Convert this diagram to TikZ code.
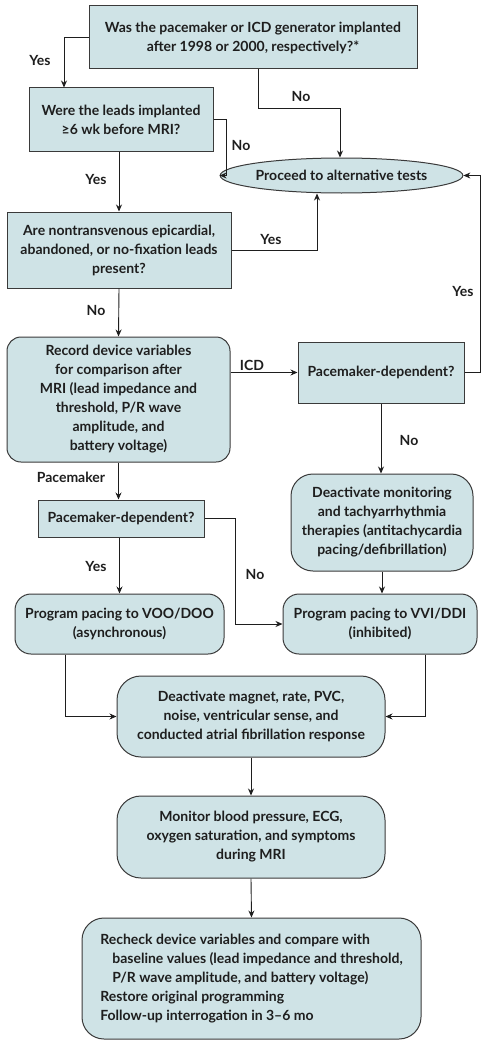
\documentclass[tikz,border=0pt]{standalone}
\usepackage{fontspec}
\setmainfont{Lato}
\usepackage{tikz}
\usetikzlibrary{arrows.meta}
\usetikzlibrary{shapes.geometric}
\usepackage{xcolor}
\definecolor{boxfill}{HTML}{CFE3E6}
\definecolor{boxline}{HTML}{3A3A3A}
\definecolor{ink}{HTML}{1E1E1E}

\tikzset{
  sqbox/.style={draw=boxline, fill=boxfill, line width=1pt, align=center, inner sep=0pt,
    text=ink, font=\fontsize{14}{19}\selectfont\bfseries},
  rdbox/.style={sqbox, rounded corners=14pt},
  lbl/.style={text=ink, font=\fontsize{14}{19}\selectfont\bfseries, inner sep=0pt},
  arr/.style={draw=ink, line width=0.9pt, -{Stealth[length=7pt,width=6pt]}}
}

\begin{document}
\begin{tikzpicture}[x=1pt,y=-1pt]
\useasboundingbox (0,0) rectangle (487,1046);

% questions
\node [sqbox, minimum width=328pt, minimum height=63pt] (q1) at (253,37.5)
  {Was the pacemaker or ICD generator implanted\\after 1998 or 2000, respectively?*};
\node [sqbox, minimum width=184pt, minimum height=63pt] (q2) at (121,119.5)
  {Were the leads implanted\\≥6 wk before MRI?};
\node [sqbox, ellipse, minimum width=195pt, minimum height=35pt] (alt) at (341.5,175.5)
  {Proceed to alternative tests};
\node [sqbox, minimum width=224pt, minimum height=76pt] (q3) at (119,250)
  {Are nontransvenous epicardial,\\abandoned, or no-fixation leads\\present?};

% device check
\node [rdbox, minimum width=223pt, minimum height=125pt] (rec) at (118.5,399.5)
  {Record device variables\\for comparison after\\MRI (lead impedance and\\threshold, P/R wave\\amplitude, and\\battery voltage)};
\node [sqbox, minimum width=166pt, minimum height=61pt] (pd1) at (381,372.5)
  {Pacemaker-dependent?};
\node [sqbox, minimum width=166pt, minimum height=37pt] (pd2) at (121,518.5)
  {Pacemaker-dependent?};
\node [rdbox, rounded corners=22pt, minimum width=182pt, minimum height=97pt] (deac) at (382,522.5)
  {Deactivate monitoring\\and tachyarrhythmia\\therapies (antitachycardia\\pacing/defibrillation)};
\node [rdbox, rounded corners=16pt, minimum width=209pt, minimum height=60pt] (voo) at (119.5,624)
  {Program pacing to VOO/DOO\\(asynchronous)};
\node [rdbox, rounded corners=16pt, minimum width=194pt, minimum height=60pt] (vvi) at (380,624)
  {Program pacing to VVI/DDI\\(inhibited)};

% during and after MRI
\node [rdbox, rounded corners=24pt, minimum width=268pt, minimum height=81pt] (mag) at (251,716.5)
  {Deactivate magnet, rate, PVC,\\noise, ventricular sense, and\\conducted atrial fibrillation response};
\node [rdbox, rounded corners=24pt, minimum width=268pt, minimum height=82pt] (mon) at (251,837)
  {Monitor blood pressure, ECG,\\oxygen saturation, and symptoms\\during MRI};
\node [rdbox, rounded corners=22pt, align=left, minimum width=339pt, minimum height=121pt] (fin) at (251.5,978.5)
  {Recheck device variables and compare with\\
   \hspace*{12pt}baseline values (lead impedance and threshold,\\
   \hspace*{12pt}P/R wave amplitude, and battery voltage)\\
   Restore original programming\\
   Follow-up interrogation in 3--6 mo};

% connectors
\draw [arr] (q1.west) -| ([xshift=-57pt]q2.north);
\draw [arr] ([xshift=5pt]q1.south) -- ++(0,39) -| ([xshift=-1.5pt]alt.north);
\draw [arr] (q2.east) -- ++(13,0) |- (alt.west);
\draw [arr] (q3.north |- q2.south) -- (q3.north);
\draw [arr] (q3.east) -| ([xshift=-24.5pt]alt.south);
\draw [arr] (q3.south) -- (rec.north);
\draw [arr] (rec.east |- pd1.west) -- (pd1.west);
\draw [arr] (pd1.east) -- ++(16,0) |- (alt.east);
\draw [arr] (pd1.south) -- (pd1.south |- deac.north);
\draw [arr] (rec.south) -- (rec.south |- pd2.north);
\draw [arr] (pd2.east) -- ++(31,0) |- (vvi.west);
\draw [arr] (pd2.south -| voo.north) -- (voo.north);
\draw [arr] (deac.south) -- (deac.south |- vvi.north);
\draw [arr] ([xshift=-54.5pt]voo.south) |- (mag.west);
\draw [arr] ([xshift=45pt]vvi.south) |- (mag.east);
\draw [arr] (mag.south) -- (mon.north);
\draw [arr] (mon.south) -- (fin.north);

% labels
\node [lbl] (l1) at (40,60) {Yes};
\node [lbl] (l2) at (301,96) {No};
\node [lbl] (l3) at (241,145) {No};
\node [lbl] (l4) at (96,179) {Yes};
\node [lbl] (l5) at (271,239) {Yes};
\node [lbl] (l6) at (463,291) {Yes};
\node [lbl] (l7) at (96,310) {No};
\node [lbl] (l8) at (252,365) {ICD};
\node [lbl] (l9) at (409,440) {No};
\node [lbl] (l10) at (71,477) {Pacemaker};
\node [lbl] (l11) at (96,566) {Yes};
\node [lbl] (l12) at (255,574) {No};
\end{tikzpicture}
\end{document}
